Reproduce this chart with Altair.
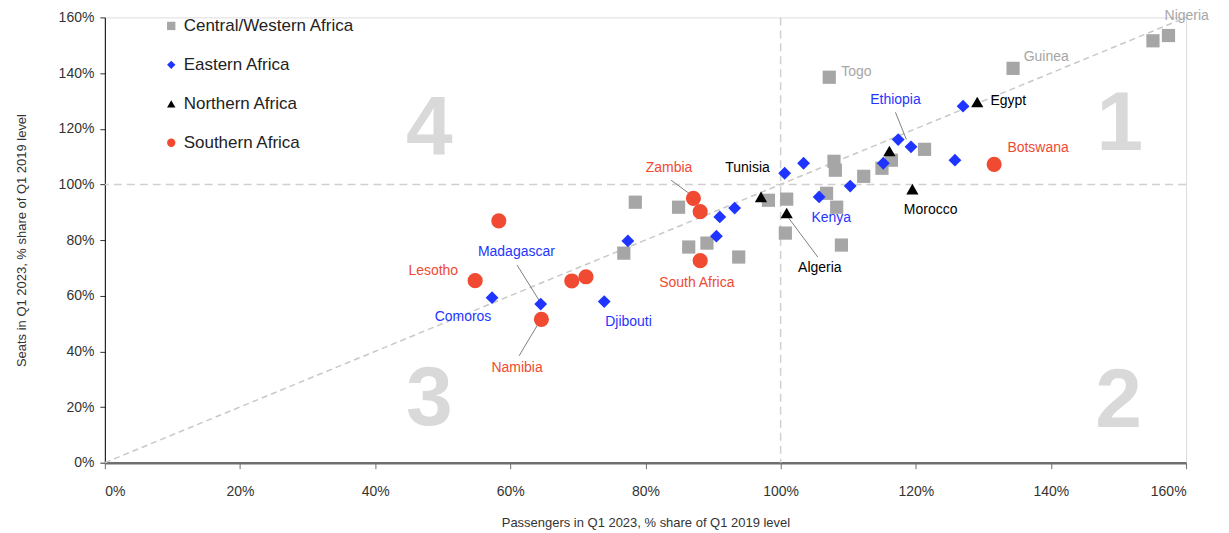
import altair as alt
import pandas as pd

# ---- data (values in %) ----
cw_x = [155.1, 157.4, 134.4, 107.2, 121.3, 107.9, 108.1, 112.3, 115.0, 116.4, 106.8,
        108.3, 100.9, 100.7, 109.0, 98.2, 78.5, 84.9, 86.4, 89.1, 93.8, 76.8]
cw_y = [151.6, 153.5, 141.7, 138.5, 112.6, 108.3, 105.1, 102.9, 105.8, 108.7, 96.8,
        91.8, 94.7, 82.5, 78.2, 94.3, 93.6, 91.8, 77.5, 78.9, 73.9, 75.3]

east_x = [127.0, 117.4, 119.3, 115.2, 125.8, 103.4, 100.6, 110.3, 105.7, 93.2, 91.0,
          90.5, 77.4, 73.9, 64.5, 57.3]
east_y = [128.1, 116.1, 113.5, 107.6, 108.7, 107.6, 104.0, 99.4, 95.5, 91.5, 88.3,
          81.4, 79.7, 57.9, 57.0, 59.3]

north_x = [129.1, 116.1, 119.5, 100.9, 97.1]
north_y = [129.6, 112.0, 98.3, 89.7, 95.5]

south_x = [131.6, 87.1, 88.1, 88.1, 58.3, 54.8, 69.1, 71.2, 64.6]
south_y = [107.2, 95.0, 90.2, 72.6, 86.9, 65.4, 65.3, 66.8, 51.5]

regions = ["Central/Western Africa", "Eastern Africa", "Northern Africa", "Southern Africa"]
colors = ["#a6a6a6", "#1f35ff", "#000000", "#f04a32"]
shapes = ["square", "diamond", "triangle-up", "circle"]
sizes = [175, 165, 150, 230]

label_names = ["Zambia", "Tunisia", "Madagascar", "Namibia", "Algeria", "Ethiopia", "Lesotho",
               "Comoros", "Djibouti", "South Africa", "Kenya", "Morocco", "Botswana", "Egypt",
               "Guinea", "Togo", "Nigeria"]
label_region = ["Southern Africa", "Northern Africa", "Eastern Africa", "Southern Africa",
                "Northern Africa", "Eastern Africa", "Southern Africa", "Eastern Africa",
                "Eastern Africa", "Southern Africa", "Eastern Africa", "Northern Africa",
                "Southern Africa", "Northern Africa", "Central/Western Africa",
                "Central/Western Africa", "Central/Western Africa"]
label_x = [83.5, 95.1, 60.9, 61.0, 105.8, 117.0, 48.6, 53.0, 77.5, 87.6, 107.5, 122.2,
           138.1, 133.7, 139.3, 111.2, 160.1]
label_y = [105.8, 105.8, 75.7, 34.1, 70.0, 130.2, 68.9, 52.4, 50.6, 64.6, 87.9, 90.8,
           113.0, 129.9, 145.6, 140.3, 160.4]

leader_x = [83.8, 61.0, 61.3, 105.5, 117.0]
leader_y = [101.5, 71.0, 38.4, 73.9, 125.9]
leader_x2 = [87.0, 64.4, 64.3, 101.2, 118.6]
leader_y2 = [95.8, 57.8, 50.6, 87.9, 116.2]

quad_text = ["1", "2", "3", "4"]
quad_x = [150.2, 150.0, 48.0, 48.0]
quad_y = [121.3, 21.9, 22.6, 119.5]

# ---- tables ----
rows = []
for r, xs_, ys_ in zip(regions, [cw_x, east_x, north_x, south_x], [cw_y, east_y, north_y, south_y]):
    for a, b in zip(xs_, ys_):
        rows.append({"region": r, "x": a, "y": b})
pts = pd.DataFrame(rows)
labels = pd.DataFrame({"name": label_names, "region": label_region, "x": label_x, "y": label_y})
leaders = pd.DataFrame({"x": leader_x, "y": leader_y, "x2": leader_x2, "y2": leader_y2})
quads = pd.DataFrame({"t": quad_text, "x": quad_x, "y": quad_y})
diag = pd.DataFrame({"x": [0, 160], "y": [0, 160]})

FONT = "Liberation Sans"
xs = alt.Scale(domain=[0, 160], nice=False, zero=True)
ys = alt.Scale(domain=[0, 160], nice=False, zero=True)

color_scale = alt.Scale(domain=regions, range=colors)
shape_scale = alt.Scale(domain=regions, range=shapes)

xaxis = alt.Axis(values=list(range(0, 161, 20)), labelExpr="datum.value + '%'",
                 title="Passengers in Q1 2023, % share of  Q1 2019 level",
                 grid=False, domainColor="#6e6e6e", domainWidth=2.5, tickColor="#6e6e6e",
                 tickSize=6, labelFontSize=14, titleFontSize=13, titlePadding=18,
                 labelPadding=16, labelColor="#333333", titleColor="#333333", titleFontWeight="normal")
yaxis = alt.Axis(values=list(range(0, 161, 20)), labelExpr="datum.value + '%'",
                 title="Seats in Q1 2023, % share of Q1 2019 level",
                 grid=False, domainColor="#000000", domainWidth=1, tickColor="#333333",
                 tickSize=5, labelFontSize=14, titleFontSize=13, titlePadding=30,
                 labelPadding=6, labelColor="#333333", titleColor="#333333", titleFontWeight="normal")

quad_layer = alt.Chart(quads).mark_text(fontSize=84, fontWeight="bold", color="#d9d9d9",
                                        font=FONT, align="center", baseline="middle").encode(
    x=alt.X("x:Q", scale=xs, axis=xaxis), y=alt.Y("y:Q", scale=ys, axis=yaxis), text="t:N")

hline = alt.Chart(pd.DataFrame({"y": [100]})).mark_rule(
    color="#d0d0d0", strokeDash=[8, 5], strokeWidth=1.5).encode(y=alt.Y("y:Q", scale=ys))
vline = alt.Chart(pd.DataFrame({"x": [100]})).mark_rule(
    color="#d0d0d0", strokeDash=[8, 5], strokeWidth=1.5).encode(x=alt.X("x:Q", scale=xs))
diag_layer = alt.Chart(diag).mark_line(color="#c8c8c8", strokeDash=[6, 4], strokeWidth=1.5).encode(
    x=alt.X("x:Q", scale=xs), y=alt.Y("y:Q", scale=ys))

leader_layer = alt.Chart(leaders).mark_rule(color="#808080", strokeWidth=1).encode(
    x=alt.X("x:Q", scale=xs), y=alt.Y("y:Q", scale=ys), x2="x2:Q", y2="y2:Q")

legend = alt.Legend(orient="none", legendX=58, legendY=0,
                    labelFontSize=17, labelFont=FONT, labelColor="#222222",
                    labelLimit=0, symbolSize=70, rowPadding=21, labelOffset=4,
                    symbolStrokeWidth=0)

point_layers = []
for r, s in zip(regions, sizes):
    point_layers.append(
        alt.Chart(pts).transform_filter(alt.datum.region == r).mark_point(
            filled=True, opacity=1, size=s).encode(
            x=alt.X("x:Q", scale=xs),
            y=alt.Y("y:Q", scale=ys),
            color=alt.Color("region:N", scale=color_scale, title=None, legend=legend),
            shape=alt.Shape("region:N", scale=shape_scale, title=None),
        )
    )

label_layer = alt.Chart(labels).mark_text(fontSize=14, font=FONT, align="center",
                                          baseline="middle").encode(
    x=alt.X("x:Q", scale=xs), y=alt.Y("y:Q", scale=ys), text="name:N",
    color=alt.Color("region:N", scale=color_scale, legend=None))

chart = alt.layer(quad_layer, hline, vline, diag_layer, leader_layer, *point_layers, label_layer).properties(
    width=1083, height=446,
    autosize=alt.AutoSizeParams(type="none"),
    padding={"left": 97, "top": 9, "right": 35, "bottom": 70},
).configure_view(stroke=None).configure(font=FONT)

chart.save("out.html", embed_options={"renderer": "svg", "actions": False})
